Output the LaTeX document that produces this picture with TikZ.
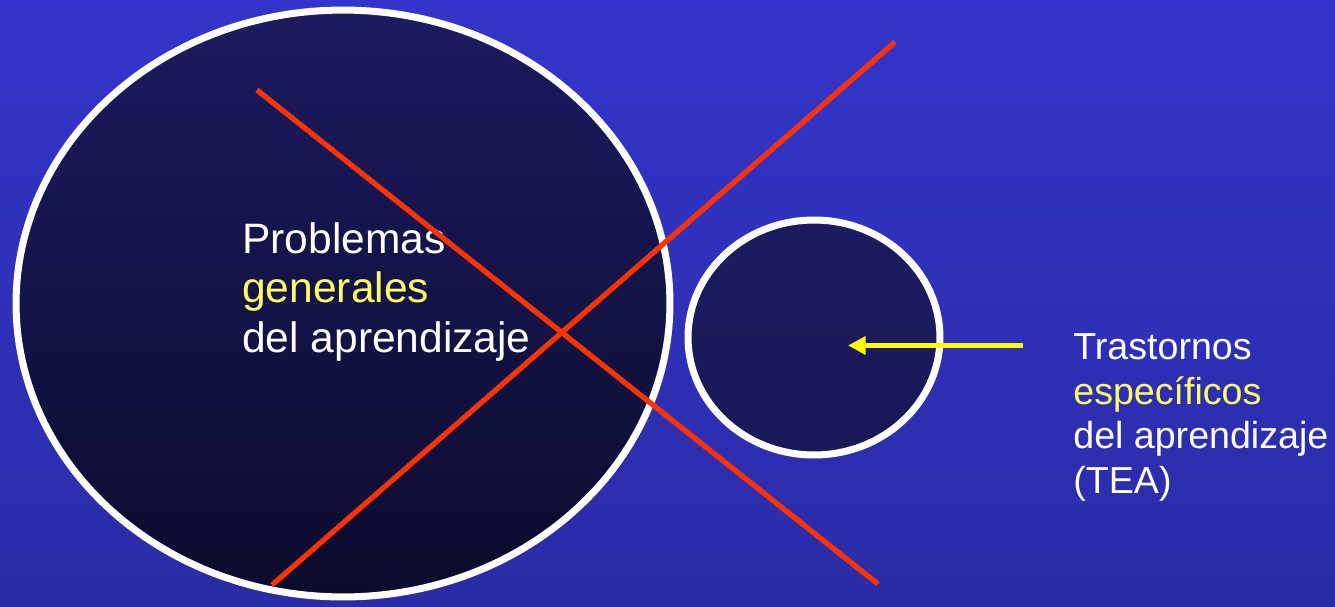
\documentclass[tikz,border=0pt]{standalone}
\usepackage{fontspec}
\setmainfont{Liberation Sans}
\usetikzlibrary{arrows.meta,positioning,shapes.geometric}
\definecolor{slideblue}{HTML}{3434CC}
\definecolor{slideblueb}{HTML}{2B2BA6}
\definecolor{navytop}{HTML}{1B1B5F}
\definecolor{navybot}{HTML}{0B0B2D}
\definecolor{crossred}{HTML}{FF3300}
\definecolor{hiyellow}{HTML}{FFFF66}
\definecolor{arrowyellow}{HTML}{FFFF00}

\begin{document}
\begin{tikzpicture}[
    x=0.02cm, y=-0.02cm,
    blob/.style={ellipse, draw=white, line width=4pt, inner sep=0pt},
    cross/.style={crossred, line width=3pt},
    pointer/.style={arrowyellow, line width=3.1pt, -{Triangle[length=10pt, width=10pt]}},
    bigtxt/.style={text=white, align=left, inner sep=0pt, anchor=base west, font=\fontsize{24.2}{28}\selectfont},
    smalltxt/.style={text=white, align=left, inner sep=0pt, anchor=base west, font=\fontsize{21.4}{25.3}\selectfont},
  ]
    \shade[top color=slideblue, bottom color=slideblueb] (0,0) rectangle (1335,606);
    \useasboundingbox (0,0) rectangle (1335,606);

    \node[blob, top color=navytop, bottom color=navybot, minimum width=13.08cm, minimum height=11.74cm] (general) at (343,303.5) {};
    \node[blob, top color=navytop, bottom color=navytop!92!black, minimum width=5.04cm, minimum height=4.7cm] (specific) at (814,337.5) {};

    \node[bigtxt] (gentext) at (242,352) {Problemas\\\textcolor{hiyellow}{generales}\\del aprendizaje};
    \node[smalltxt] (teatext) at (1073,493) {Trastornos\\\textcolor{hiyellow}{específicos}\\del aprendizaje\\(TEA)};

    \coordinate (crossAa) at (257,90);
    \coordinate (crossAb) at (878,584);
    \coordinate (crossBa) at (272,585);
    \coordinate (crossBb) at (895,42);
    \draw[cross] (crossAa) -- (crossAb);
    \draw[cross] (crossBa) -- (crossBb);

    \coordinate (pointtail) at (1023,345.5);
    \coordinate (pointtip) at (848,345.5);
    \draw[pointer] (pointtail) -- (pointtip);
  \end{tikzpicture}
\end{document}
